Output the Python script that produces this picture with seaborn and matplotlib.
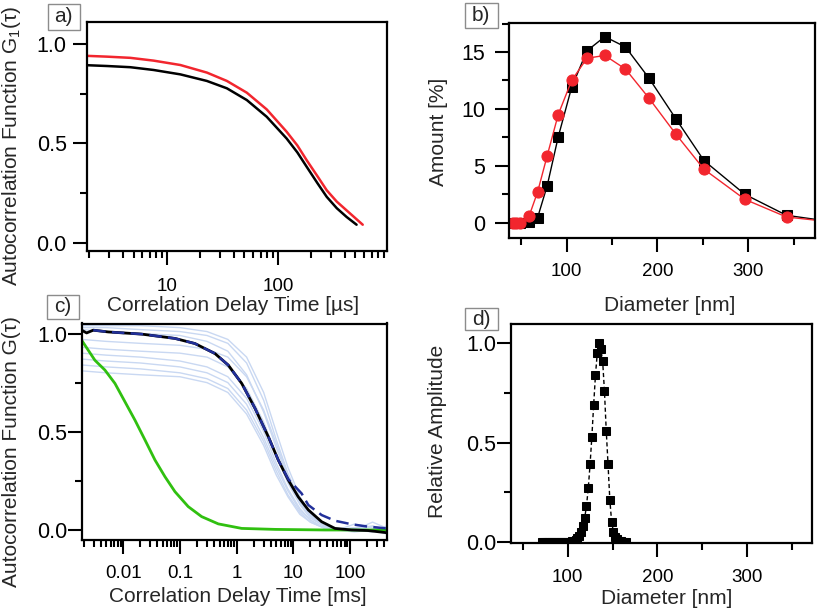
import numpy as np
import pandas as pd
import matplotlib
matplotlib.use('Agg')
import matplotlib.pyplot as plt
import matplotlib.ticker as mticker
from matplotlib.patches import Rectangle
import seaborn as sns

# ---- panel a: fitted G1(tau), delay in us ----
a_tau_red = [1.9, 2.88, 4.67, 7.58, 13.2, 22.9, 34.7, 52.5, 79.4, 120, 150, 182, 228, 276, 340, 417, 500, 583]
a_g_red = [0.940, 0.936, 0.930, 0.916, 0.894, 0.856, 0.814, 0.755, 0.671, 0.559, 0.49, 0.416, 0.335, 0.265, 0.208, 0.164, 0.125, 0.092]
a_tau_black = [1.9, 2.88, 4.67, 7.58, 13.2, 22.9, 34.7, 52.5, 79.4, 120, 150, 182, 228, 276, 340, 417, 513]
a_g_black = [0.893, 0.889, 0.883, 0.869, 0.847, 0.814, 0.777, 0.718, 0.634, 0.525, 0.455, 0.383, 0.30, 0.232, 0.175, 0.131, 0.092]

# ---- panel b: size distributions ----
b_diam = [40.5, 44.5, 48.6, 58.8, 68.0, 78.6, 90.7, 105.5, 122.3, 142.0, 164.8, 190.3, 220.3, 251.2, 296.3, 342.2, 400.0]
b_black = [0, 0, 0, 0.05, 0.45, 3.26, 7.54, 11.9, 15.1, 16.35, 15.44, 12.74, 9.13, 5.46, 2.49, 0.65, 0.0]
b_red = [0, 0, 0, 0.62, 2.7, 5.9, 9.5, 12.5, 14.45, 14.7, 13.5, 10.98, 7.78, 4.7, 2.05, 0.5, 0.0]

# ---- panel c: measured correlation curves, delay in ms ----
c_tau_grid = [0.00185, 0.005, 0.02, 0.1, 0.3, 0.7, 1.5, 3, 5, 8, 13, 20, 35, 60, 120, 250, 440]
c_runs = [
    [1.04, 1.04, 1.04, 1.03, 1.01, 0.97, 0.88, 0.70, 0.50, 0.32, 0.17, 0.08, 0.02, 0.005, 0.01, 0.02, 0.0],
    [1.03, 1.03, 1.02, 1.01, 0.99, 0.95, 0.85, 0.66, 0.46, 0.29, 0.15, 0.07, 0.02, 0.0, 0.03, 0.01, -0.01],
    [1.02, 1.01, 1.00, 0.99, 0.96, 0.91, 0.79, 0.60, 0.42, 0.27, 0.14, 0.07, 0.02, 0.0, 0.0, 0.04, 0.01],
    [0.97, 0.96, 0.95, 0.94, 0.92, 0.88, 0.78, 0.61, 0.44, 0.28, 0.15, 0.08, 0.02, 0.01, 0.0, -0.01, 0.02],
    [0.93, 0.92, 0.91, 0.90, 0.88, 0.83, 0.72, 0.55, 0.38, 0.24, 0.13, 0.06, 0.02, 0.0, 0.01, 0.0, -0.02],
    [0.90, 0.89, 0.88, 0.86, 0.83, 0.78, 0.67, 0.50, 0.34, 0.21, 0.11, 0.05, 0.01, 0.0, 0.0, 0.02, 0.0],
    [0.87, 0.86, 0.85, 0.83, 0.80, 0.75, 0.64, 0.47, 0.32, 0.20, 0.10, 0.05, 0.01, 0.0, -0.01, 0.0, 0.01],
    [0.84, 0.83, 0.82, 0.80, 0.77, 0.72, 0.61, 0.45, 0.30, 0.18, 0.09, 0.04, 0.01, 0.0, 0.0, 0.0, -0.01],
    [0.81, 0.80, 0.79, 0.78, 0.75, 0.70, 0.59, 0.43, 0.28, 0.17, 0.08, 0.04, 0.01, 0.0, 0.01, 0.0, 0.0],
]
c_tau_green = [0.001845, 0.002415, 0.00316, 0.00475, 0.00714, 0.0107, 0.0161, 0.0242, 0.0363,
               0.0545, 0.0817, 0.140, 0.2415, 0.475, 1.23, 4.79, 36.3, 447]
c_g_green = [0.966, 0.915, 0.864, 0.814, 0.746, 0.653, 0.559, 0.458, 0.356,
             0.271, 0.195, 0.119, 0.068, 0.031, 0.008, 0.003, 0.0, 0.0]
c_tau_black = [0.001845, 0.00226, 0.00296, 0.00545, 0.0211, 0.0817, 0.184, 0.415, 0.713, 1.23, 2.11,
               3.62, 5.43, 8.17, 12.2, 18.4, 31.6, 54.3, 107, 209, 447]
c_g_black = [1.017, 1.003, 1.017, 1.008, 0.997, 0.975, 0.949, 0.898, 0.839, 0.746, 0.619,
             0.475, 0.356, 0.254, 0.169, 0.102, 0.042, 0.008, 0.0, -0.003, -0.014]
c_tau_fit = [0.00296, 0.00545, 0.0211, 0.0817, 0.184, 0.415, 0.713, 1.23, 2.11, 3.62, 5.43, 8.17,
             14.0, 18.4, 31.6, 54.3, 107, 209, 447]
c_g_fit = [1.017, 1.008, 0.997, 0.975, 0.949, 0.898, 0.839, 0.746, 0.619, 0.475, 0.356, 0.258,
           0.186, 0.127, 0.076, 0.047, 0.029, 0.017, 0.008]

# ---- panel d: relative amplitude vs diameter ----
d_diam = [71, 73, 75, 77, 79, 81, 83, 85, 87, 89, 91, 93, 95, 97, 99, 101, 103, 105, 107, 109,
          111, 113, 115, 117, 119, 121, 123, 125, 127, 129, 131, 133, 135, 137, 139, 141, 143,
          145, 147, 149, 151, 153, 155, 157, 159, 161, 163, 165]
d_amp = [0, 0, 0, 0, 0, 0, 0, 0, 0, 0, 0, 0, 0, 0, 0, 0, 0.001, 0.002, 0.005, 0.01,
         0.018, 0.03, 0.05, 0.08, 0.12, 0.18, 0.27, 0.39, 0.53, 0.69, 0.84, 0.95, 1.0, 0.97, 0.91,
         0.76, 0.56, 0.39, 0.21, 0.10, 0.05, 0.025, 0.012, 0.006, 0.003, 0.001, 0, 0]

sns.set_theme(style='ticks')
plt.rcParams['font.family'] = ['Liberation Sans', 'DejaVu Sans']
plt.rcParams['mathtext.fontset'] = 'custom'
plt.rcParams['mathtext.rm'] = 'Liberation Sans'
plt.rcParams['mathtext.it'] = 'Liberation Sans'

W, H = 817, 612
fig = plt.figure(figsize=(W / 100, H / 100), dpi=100)


def px_axes(left, top, right, bottom):
    return fig.add_axes([left / W, 1 - bottom / H, (right - left) / W, (bottom - top) / H])


ax_a = px_axes(87, 22, 387, 251)
ax_b = px_axes(509, 23, 815, 238.3)
ax_c = px_axes(81.7, 323.5, 386.7, 540)
ax_d = px_axes(511, 324.3, 812, 543.3)

RED = '#f2262e'

# a
sns.lineplot(x=a_tau_black, y=a_g_black, ax=ax_a, color='black', lw=1.8, sort=False, estimator=None)
sns.lineplot(x=a_tau_red, y=a_g_red, ax=ax_a, color=RED, lw=1.8, sort=False, estimator=None)
ax_a.set_xscale('log')
ax_a.set_xlim(1.9, 965)
ax_a.set_ylim(-0.04, 1.11)

# b
sns.lineplot(x=b_diam, y=b_black, ax=ax_b, color='black', lw=1.0, marker='s', markersize=7,
             markeredgecolor='black', sort=False, estimator=None)
sns.lineplot(x=b_diam, y=b_red, ax=ax_b, color=RED, lw=1.0, marker='o', markersize=8,
             markeredgecolor=RED, sort=False, estimator=None)
ax_b.set_xlim(36.5, 373.5)
ax_b.set_ylim(-1.37, 17.55)

# c
for run in c_runs:
    sns.lineplot(x=c_tau_grid, y=run, ax=ax_c, color='#c9d8f2', lw=1.0, sort=False, estimator=None)
sns.lineplot(x=c_tau_green, y=c_g_green, ax=ax_c, color='#30c010', lw=2.0, sort=False, estimator=None)
sns.lineplot(x=c_tau_black, y=c_g_black, ax=ax_c, color='black', lw=2.0, sort=False, estimator=None)
sns.lineplot(x=c_tau_fit, y=c_g_fit, ax=ax_c, color='#22309a', lw=1.8, linestyle=(0, (5, 2.5)),
             sort=False, estimator=None)
ax_c.set_xscale('log')
ax_c.set_xlim(0.00185, 444)
ax_c.set_ylim(-0.051, 1.051)

# d
sns.lineplot(x=d_diam, y=d_amp, ax=ax_d, color='black', lw=1.0, linestyle=(0, (3, 2)), marker='s',
             markersize=5.5, markeredgecolor='black', sort=False, estimator=None)
ax_d.set_xlim(37, 372)
ax_d.set_ylim(-0.008, 1.096)

for ax in (ax_a, ax_b, ax_c, ax_d):
    for s in ax.spines.values():
        s.set_visible(True)
        s.set_linewidth(1.6)
        s.set_color('black')
    ax.tick_params(which='major', direction='out', length=10, width=1.5,
                   top=False, right=False, color='black', labelcolor='black')
    ax.tick_params(which='minor', direction='out', length=5, width=1.5, top=False, right=False,
                   color='black')
    ax.tick_params(axis='x', labelsize=13.5)
    ax.tick_params(axis='y', labelsize=15.5)
    ax.grid(False)

for ax in (ax_a, ax_c):
    ax.xaxis.set_major_locator(mticker.LogLocator(base=10))
    ax.xaxis.set_minor_locator(mticker.LogLocator(base=10, subs=range(2, 10), numticks=20))
    ax.xaxis.set_major_formatter(mticker.FuncFormatter(lambda v, _: f'{v:g}'))
    ax.xaxis.set_minor_formatter(mticker.NullFormatter())
    ax.yaxis.set_major_locator(mticker.MultipleLocator(0.5))
    ax.yaxis.set_minor_locator(mticker.MultipleLocator(0.25))
    ax.yaxis.set_major_formatter(mticker.FormatStrFormatter('%.1f'))

ax_b.yaxis.set_major_locator(mticker.MultipleLocator(5))
ax_b.yaxis.set_minor_locator(mticker.MultipleLocator(2.5))
ax_d.yaxis.set_major_locator(mticker.MultipleLocator(0.5))
ax_d.yaxis.set_minor_locator(mticker.MultipleLocator(0.25))
ax_d.yaxis.set_major_formatter(mticker.FormatStrFormatter('%.1f'))
for ax in (ax_b, ax_d):
    ax.xaxis.set_major_locator(mticker.MultipleLocator(100))
    ax.xaxis.set_minor_locator(mticker.MultipleLocator(50))

ax_a.tick_params(axis='x', which='major', pad=9.5)
ax_a.tick_params(axis='y', which='major', pad=4.5)
ax_b.tick_params(axis='x', which='major', pad=7.5)
ax_b.tick_params(axis='y', which='major', pad=7)
ax_c.tick_params(axis='x', which='major', pad=8)
ax_c.tick_params(axis='y', which='major', pad=0.5)
ax_d.tick_params(axis='x', which='major', pad=8.5)
ax_d.tick_params(axis='y', which='major', pad=0.5)

LAB = 15
ax_a.set_xlabel('Correlation Delay Time [µs]', fontsize=LAB, va='center')
ax_a.xaxis.set_label_coords(0.487, -0.236)
ax_a.set_ylabel('Autocorrelation Function G$_1$(τ)', fontsize=LAB, va='center')
ax_a.yaxis.set_label_coords(-0.251, 0.4585)

ax_b.set_xlabel('Diameter [nm]', fontsize=LAB, va='center')
ax_b.xaxis.set_label_coords(0.526, -0.31)
ax_b.set_ylabel('Amount [%]', fontsize=LAB, va='center')
ax_b.yaxis.set_label_coords(-0.231, 0.496)

ax_c.set_xlabel('Correlation Delay Time [ms]', fontsize=LAB, va='center')
ax_c.xaxis.set_label_coords(0.511, -0.263)
ax_c.set_ylabel('Autocorrelation Function G(τ)', fontsize=LAB, va='center')
ax_c.yaxis.set_label_coords(-0.2295, 0.41)

ax_d.set_xlabel('Diameter [nm]', fontsize=LAB, va='center')
ax_d.xaxis.set_label_coords(0.518, -0.25)
ax_d.set_ylabel('Relative Amplitude', fontsize=LAB, va='center')
ax_d.yaxis.set_label_coords(-0.243, 0.51)

# panel letters in small grey boxes (pixel coords)
for letter, (l, t, r, b) in [('a)', (47.5, 3.5, 80, 29.5)), ('b)', (465, 3.3, 497.5, 28.3)),
                             ('c)', (46.7, 295, 79, 318.5)), ('d)', (465, 308.3, 497.5, 330))]:
    fig.patches.append(Rectangle((l / W, 1 - b / H), (r - l) / W, (b - t) / H,
                                 transform=fig.transFigure, facecolor='white',
                                 edgecolor='#8c8c8c', linewidth=1.0))
    fig.text((l + r) / 2 / W, 1 - (t + b) / 2 / H, letter, ha='center', va='center', fontsize=15)

fig.savefig('out.png', dpi=100)
